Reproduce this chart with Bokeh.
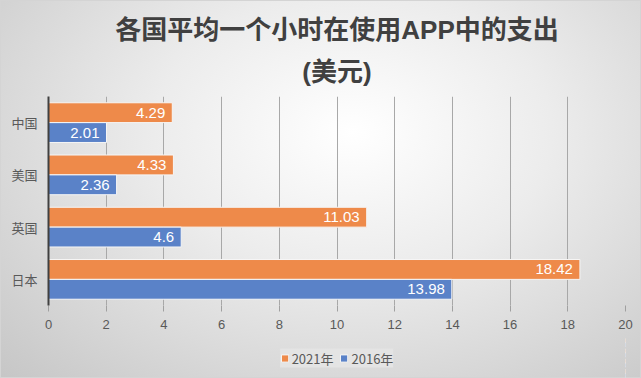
from bokeh.plotting import figure
from bokeh.models import ColumnDataSource, FactorRange, Range1d, FixedTicker, LabelSet, Legend, LegendItem, Title
from bokeh.layouts import column
from bokeh.transform import dodge
from bokeh.core.properties import value
from bokeh.embed import file_html
from bokeh.resources import INLINE

countries = ["中国", "美国", "英国", "日本"]
values_2021 = [4.29, 4.33, 11.03, 18.42]
values_2016 = [2.01, 2.36, 4.6, 13.98]
series_names = ["2021年", "2016年"]
x_ticks = [0, 2, 4, 6, 8, 10, 12, 14, 16, 18, 20]
title_lines = ["各国平均一个小时在使用APP中的支出", "(美元)"]

ORANGE = "#EE8A4A"
BLUE = "#5A82C8"
CJK = "Noto Sans CJK SC"
TITLE_FONT = "Liberation Sans, Noto Sans CJK SC"

src = ColumnDataSource(dict(
    country=countries,
    v21=values_2021,
    v16=values_2016,
    t21=[f"{v:g}" for v in values_2021],
    t16=[f"{v:g}" for v in values_2016],
))

p = figure(
    frame_width=577, frame_height=209,
    y_range=FactorRange(factors=list(reversed(countries))),
    x_range=Range1d(0, 20),
    output_backend="svg", toolbar_location=None, title_location=None,
    min_border_left=48, min_border_right=16, min_border_top=96, min_border_bottom=32,
)
p.background_fill_color = None
p.border_fill_color = None
p.outline_line_color = None

for txt, off in [(title_lines[1], 19), (title_lines[0], 2)]:
    p.add_layout(Title(text=txt, align="center", text_font=TITLE_FONT, text_font_size="26px",
                       text_font_style="bold", text_color="#404040", standoff=off), "above")

bar_kw = dict(height=0.38, left=0, source=src, line_color="#f6f6f6", line_width=1)
r21 = p.hbar(y=dodge("country", 0.19, range=p.y_range), right="v21", fill_color=ORANGE, **bar_kw)
r16 = p.hbar(y=dodge("country", -0.19, range=p.y_range), right="v16", fill_color=BLUE, **bar_kw)

for ycol, xcol, tcol in [(0.19, "v21", "t21"), (-0.19, "v16", "t16")]:
    p.add_layout(LabelSet(x=xcol, y=dodge("country", ycol, range=p.y_range), text=tcol, source=src,
                          x_offset=-7, text_align="right", text_baseline="middle",
                          text_color="white", text_font=value("Liberation Sans"),
                          text_font_size=value("15px")))

p.xaxis.ticker = FixedTicker(ticks=x_ticks)
p.xaxis.axis_line_color = None
p.xaxis.major_tick_line_color = "#a0a0a0"
p.xaxis.major_tick_in = 0
p.xaxis.major_tick_out = 6
p.xaxis.minor_tick_line_color = None
p.xaxis.major_label_text_font = "Liberation Sans"
p.xaxis.major_label_text_font_size = "13px"
p.xaxis.major_label_text_color = "#595959"
p.xaxis.major_label_standoff = 8

p.yaxis.axis_line_color = "#404040"
p.yaxis.axis_line_width = 2
p.yaxis.major_tick_line_color = None
p.yaxis.minor_tick_line_color = None
p.yaxis.major_label_text_font = CJK
p.yaxis.major_label_text_font_size = "13px"
p.yaxis.major_label_text_color = "#595959"
p.yaxis.major_label_standoff = 5

p.xgrid.grid_line_color = "#a8a8a8"
p.ygrid.grid_line_color = None

# legend strip: same series, drawn in a strip whose ranges keep the bars out of view
lg = figure(
    width=641, height=41,
    y_range=FactorRange(factors=list(reversed(countries))),
    x_range=Range1d(-2, -1),
    output_backend="svg", toolbar_location=None, title_location=None,
    x_axis_location=None, y_axis_location=None, min_border=0,
)
lg.background_fill_color = None
lg.border_fill_color = None
lg.outline_line_color = None
lg.xgrid.grid_line_color = None
lg.ygrid.grid_line_color = None
l21 = lg.hbar(y=dodge("country", 0.19, range=lg.y_range), right="v21", fill_color=ORANGE, **bar_kw)
l16 = lg.hbar(y=dodge("country", -0.19, range=lg.y_range), right="v16", fill_color=BLUE, **bar_kw)

legend = Legend(items=[LegendItem(label=series_names[0], renderers=[l21]),
                       LegendItem(label=series_names[1], renderers=[l16])],
                orientation="horizontal", location="center",
                label_text_font=CJK, label_text_font_size="13px", label_text_color="#595959",
                glyph_width=9, glyph_height=9, spacing=6, label_standoff=3,
                padding=4, margin=0,
                background_fill_color="#e4e4e4", background_fill_alpha=1,
                border_line_color=None)
lg.add_layout(legend)

layout = column(p, lg, spacing=0)
layout.styles = {
    "background": "radial-gradient(ellipse at 55% 35%, #ffffff 0%, #ececec 40%, #c6c6c6 100%)",
    "box-shadow": "inset 0 0 0 1px #d4d4d4",
}

open("out.html", "w").write(file_html(layout, INLINE))
